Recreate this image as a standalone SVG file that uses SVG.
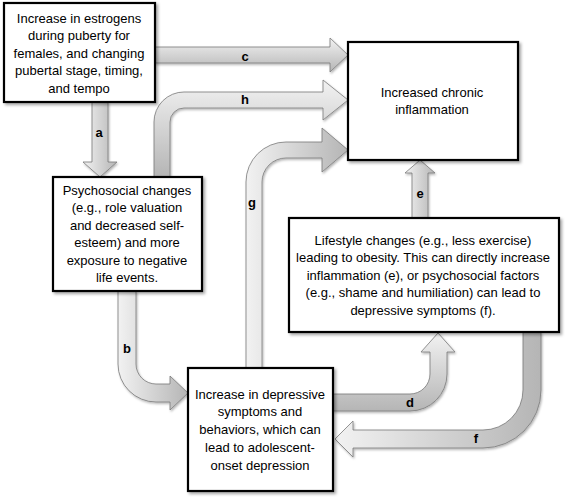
<svg xmlns="http://www.w3.org/2000/svg" width="567" height="498" viewBox="0 0 567 498">
<defs>
<linearGradient id="gv" x1="0" y1="0" x2="1" y2="0"><stop offset="0" stop-color="#f2f2f2"/><stop offset="1" stop-color="#b5b5b5"/></linearGradient>
<linearGradient id="gh" x1="0" y1="0" x2="0" y2="1"><stop offset="0" stop-color="#f2f2f2"/><stop offset="1" stop-color="#b5b5b5"/></linearGradient>
<filter id="sh" x="-10%" y="-10%" width="130%" height="130%"><feDropShadow dx="2" dy="2" stdDeviation="1.5" flood-color="#000" flood-opacity="0.35"/></filter>
<filter id="ash" x="-10%" y="-10%" width="130%" height="130%"><feDropShadow dx="1" dy="1.5" stdDeviation="1" flood-color="#000" flood-opacity="0.3"/></filter>
</defs>
<style>
.box{fill:#fff;stroke:#000;stroke-width:2.2;filter:url(#sh)}
.t{font-family:"Liberation Sans",Arial,sans-serif;font-size:13px;fill:#000;text-anchor:middle}
.arr{stroke:#7a7a7a;stroke-width:0.8;filter:url(#ash)}
.v{fill:url(#gv)}
.h{fill:url(#gh)}
.lb{font-family:"Liberation Sans",Arial,sans-serif;font-size:13px;font-weight:bold;fill:#000;text-anchor:middle}
</style>
<rect width="567" height="498" fill="#fff"/>
<g id="connectors">
<path class="arr h" d="M155,47 H330 V38 L348,55 L330,72 V63 H155 Z"/>
<path class="arr h" d="M154,177 V122 A30,30 0 0 1 184,92 H323 V80 L348,100 L323,120 V108 H184 A14,14 0 0 0 170,122 V177 Z"/>
<path class="arr v" d="M246,368 V182 A40,40 0 0 1 286,142 H322 V128 L348,150 L322,172 V158 H286 A24,24 0 0 0 262,182 V368 Z"/>
<path class="arr v" d="M92,102 V162 H83 L100,177 L117,162 H108 V102 Z"/>
<path class="arr v" d="M412,218 V173 H405 L420,160 L435,173 H428 V218 Z"/>
<path class="arr v" d="M118,291 V364 A38,38 0 0 0 156,402 H170 V410 L188,393 L170,376 V384 H156 A20,20 0 0 1 136,364 V291 Z"/>
<path class="arr h" d="M333,394 H410 A20,20 0 0 0 430,374 V352 H421 L438,333 L455,352 H447 V374 A37,37 0 0 1 410,411 H333 Z"/>
<path class="arr v" d="M523,332 V390 A40,40 0 0 1 483,430 H353 V421 L335,439 L353,457 V448 H483 A58,58 0 0 0 541,390 V332 Z"/>
<text class="lb" x="245" y="61">c</text>
<text class="lb" x="245" y="104">h</text>
<text class="lb" x="99" y="137">a</text>
<text class="lb" x="252" y="207">g</text>
<text class="lb" x="420" y="198">e</text>
<text class="lb" x="127" y="353">b</text>
<text class="lb" x="410" y="407">d</text>
<text class="lb" x="476" y="443">f</text>
</g>
<g id="estrogens">
<rect class="box" x="4" y="3" width="151" height="99"/>
<text class="t" x="79" y="23">Increase in estrogens</text>
<text class="t" x="79" y="40">during puberty for</text>
<text class="t" x="79" y="58">females, and changing</text>
<text class="t" x="79" y="75">pubertal stage, timing,</text>
<text class="t" x="79" y="93">and tempo</text>
</g>
<g id="inflammation">
<rect class="box" x="348" y="42" width="170" height="118"/>
<text class="t" x="432" y="97">Increased chronic</text>
<text class="t" x="432" y="114">inflammation</text>
</g>
<g id="psychosocial">
<rect class="box" x="53" y="177" width="149" height="114"/>
<text class="t" x="127" y="195">Psychosocial changes</text>
<text class="t" x="127" y="212">(e.g., role valuation</text>
<text class="t" x="127" y="230">and decreased self-</text>
<text class="t" x="127" y="247">esteem) and more</text>
<text class="t" x="127" y="265">exposure to negative</text>
<text class="t" x="127" y="282">life events.</text>
</g>
<g id="lifestyle">
<rect class="box" x="289" y="218" width="270" height="114"/>
<text class="t" x="423" y="245">Lifestyle changes (e.g., less exercise)</text>
<text class="t" x="423" y="262">leading to obesity. This can directly increase</text>
<text class="t" x="423" y="280">inflammation (e), or psychosocial factors</text>
<text class="t" x="423" y="297">(e.g., shame and humiliation) can lead to</text>
<text class="t" x="423" y="315">depressive symptoms (f).</text>
</g>
<g id="depressive">
<rect class="box" x="188" y="368" width="145" height="123"/>
<text class="t" x="260" y="399">Increase in depressive</text>
<text class="t" x="260" y="416">symptoms and</text>
<text class="t" x="260" y="434">behaviors, which can</text>
<text class="t" x="260" y="452">lead to adolescent-</text>
<text class="t" x="260" y="470">onset depression</text>
</g>
</svg>
